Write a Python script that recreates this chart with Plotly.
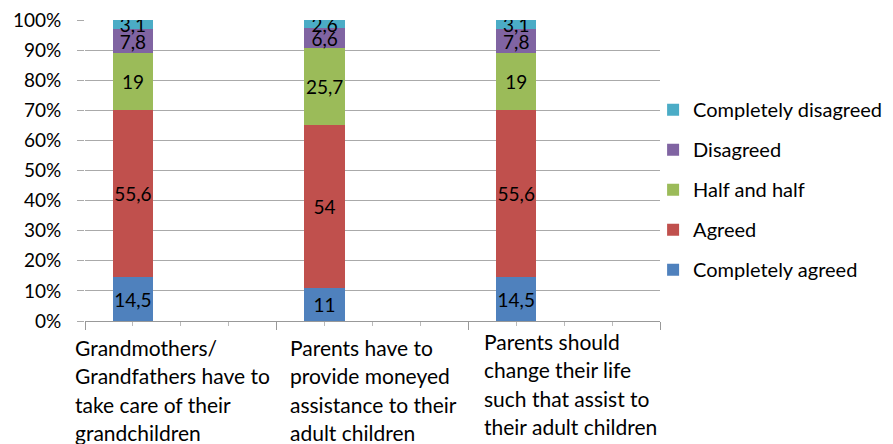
import plotly.graph_objects as go

categories = [
    "Grandmothers/<br>Grandfathers have to<br>take care of their<br>grandchildren",
    "Parents have to<br>provide moneyed<br>assistance to their<br>adult children",
    "Parents should<br>change their life<br>such that assist to<br>their adult children",
]
series_names = ["Completely agreed", "Agreed", "Half and half", "Disagreed", "Completely disagreed"]
completely_agreed = [14.5, 11, 14.5]
agreed = [55.6, 54, 55.6]
half_and_half = [19, 25.7, 19]
disagreed = [7.8, 6.6, 7.8]
completely_disagreed = [3.1, 2.6, 3.1]
y_ticks = [0, 10, 20, 30, 40, 50, 60, 70, 80, 90, 100]

series_values = [completely_agreed, agreed, half_and_half, disagreed, completely_disagreed]
colors = ["#4F81BD", "#C0504D", "#9BBB59", "#8064A2", "#4BACC6"]

# bar positions on a fine numeric axis (4 units per category group)
bar_x = [1, 5, 9]

FONT = "Lato"
fig = go.Figure()
for i, (name, vals, col) in enumerate(zip(series_names, series_values, colors)):
    fig.add_trace(go.Bar(
        x=bar_x, y=vals, name=name, marker_color=col, width=0.84,
        text=[f"{v:g}".replace(".", ",") for v in vals],
        textposition="inside", insidetextanchor="middle", constraintext="none",
        textangle=0,
        textfont=dict(family=FONT, size=19, color="#000000"),
        legendgroup=name, legendrank=len(series_names) - i, marker_line_width=0,
    ))

annotations = []
label_x = [-0.021, 0.353, 0.690]
label_shift = [0, 0, 6]
for cx, cat, sh in zip(label_x, categories, label_shift):
    for i, line in enumerate(cat.split("<br>")):
        annotations.append(dict(
            x=cx, xref="paper", y=0, yref="paper", yanchor="middle", xanchor="left",
            text=line, showarrow=False, align="left",
            yshift=-26 - 28.5 * i + sh,
            font=dict(family=FONT, size=21, color="#000000"),
        ))

fig.update_layout(
    barmode="stack",
    width=893, height=444,
    margin=dict(l=77, r=241, t=12, b=131, autoexpand=False),
    paper_bgcolor="white", plot_bgcolor="white",
    font=dict(family=FONT, size=20, color="#000000"),
    showlegend=True,
    legend=dict(
        x=0.988, xanchor="left", y=0.767, yanchor="top",
        traceorder="grouped", tracegroupgap=11,
        font=dict(family=FONT, size=20, color="#000000"),
        bgcolor="rgba(0,0,0,0)",
    ),
    annotations=annotations,
    xaxis=dict(
        range=[0, 12], tickvals=[0, 4, 8, 12], ticktext=["", "", "", ""],
        ticks="outside", ticklen=8, tickcolor="#999999", automargin=False,
        showgrid=False, zeroline=False,
        showline=True, linecolor="#999999", linewidth=1,
        minor=dict(dtick=1, ticks="outside", ticklen=4, tickcolor="#bbbbbb"),
    ),
    yaxis=dict(
        range=[0, 100.01], tickvals=y_ticks, ticktext=[f"{t}%" for t in y_ticks],
        ticks="outside", ticklen=7, tickcolor="#aaaaaa", ticklabelstandoff=12,
        ticklabeloverflow="allow", automargin=False,
        showgrid=True, gridcolor="#aaaaaa", gridwidth=1,
        zeroline=False, showline=False,
        tickfont=dict(family=FONT, size=19, color="#000000"),
    ),
)

fig.write_html("out.html")
